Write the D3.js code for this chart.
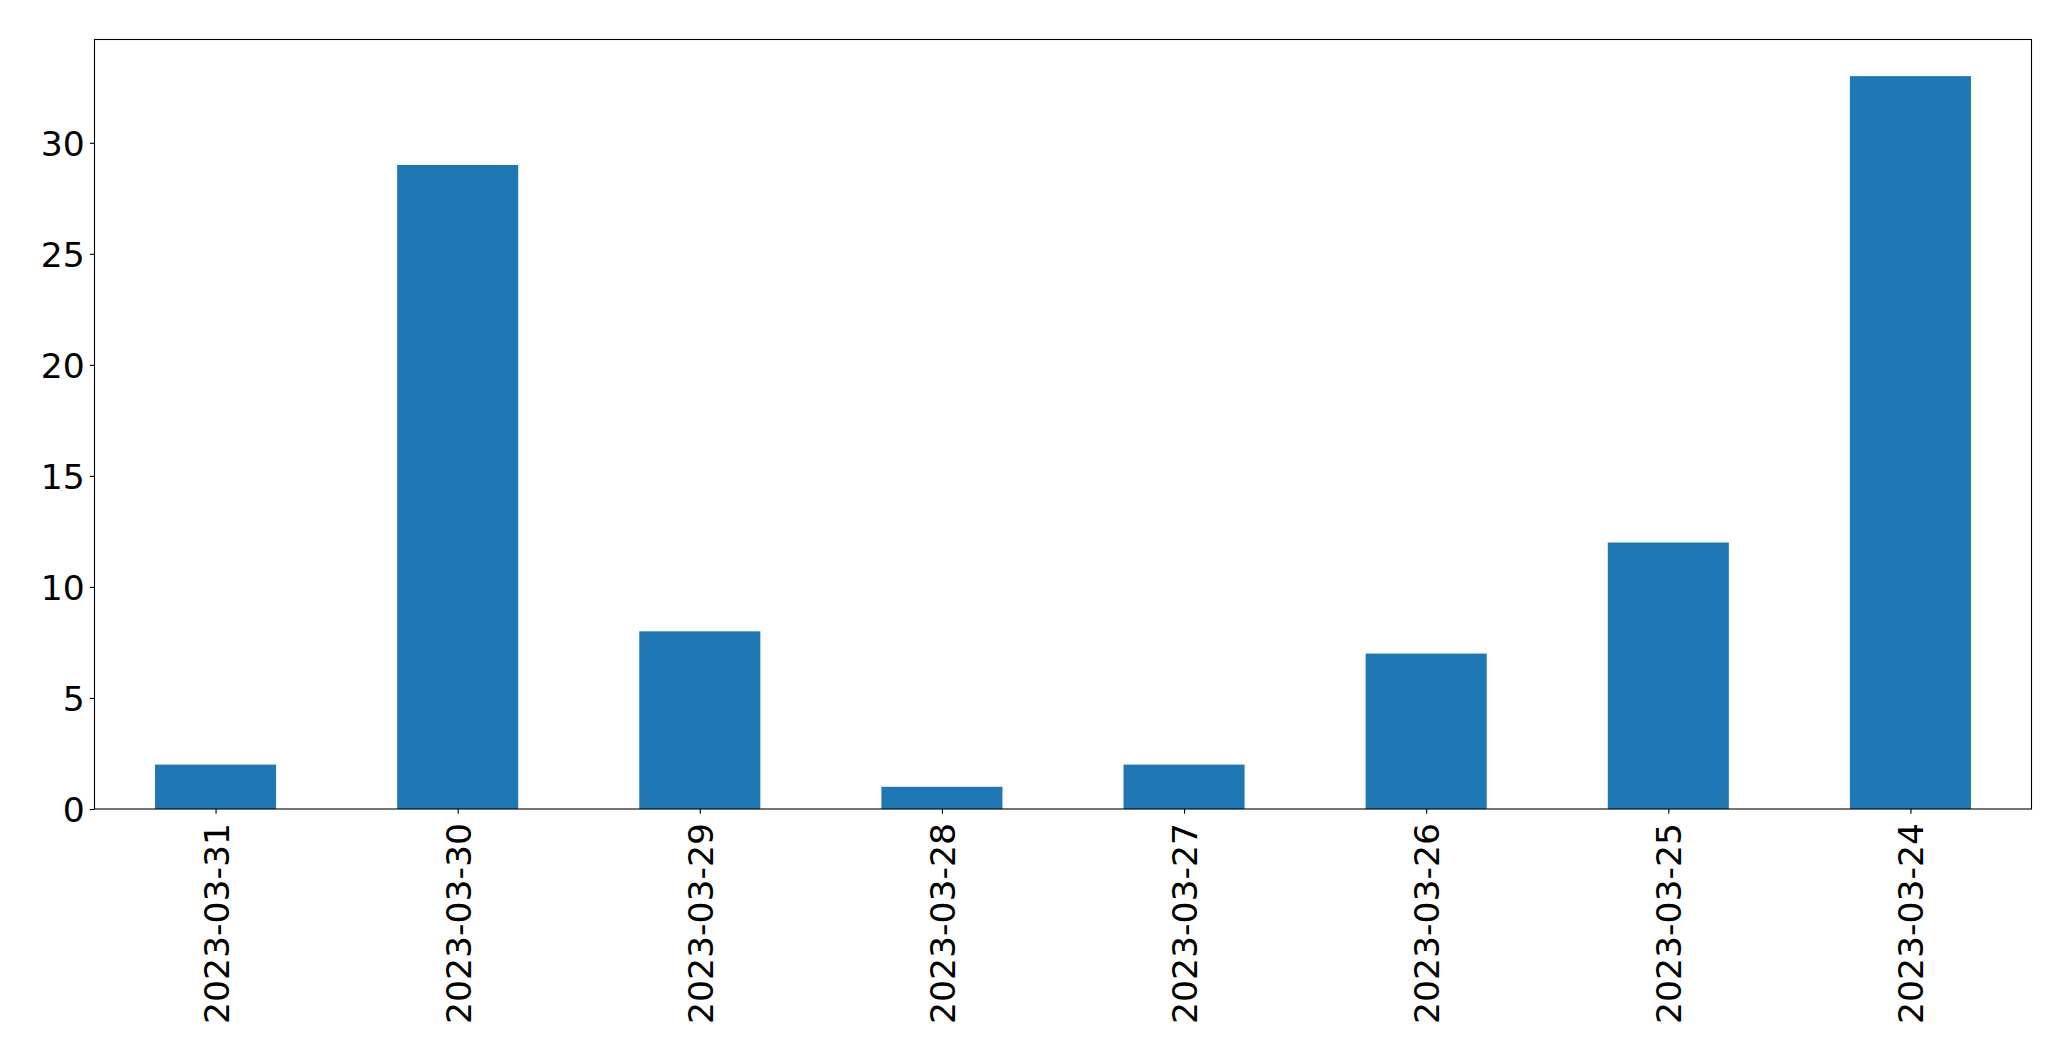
<!DOCTYPE html>
<html><head><meta charset="utf-8">
<script src="https://cdn.jsdelivr.net/npm/d3@7"></script>
<style>body{margin:0;background:#fff}svg{display:block}text{font-family:"DejaVu Sans",sans-serif;fill:#000}</style>
</head><body>
<script>
const categories = ["2023-03-31","2023-03-30","2023-03-29","2023-03-28","2023-03-27","2023-03-26","2023-03-25","2023-03-24"];
const values = [2, 29, 8, 1, 2, 7, 12, 33];
const yTicks = [0, 5, 10, 15, 20, 25, 30];

const W = 2071, H = 1061;
const L = 94.5, R = 2031.5, T = 39.5, B = 809;
const svg = d3.select("body").append("svg").attr("width", W).attr("height", H);

const x = d3.scaleLinear().domain([-0.5, categories.length - 0.5]).range([L, R]);
const y = d3.scaleLinear().domain([0, d3.max(values) * 1.05]).range([B, T]);

svg.append("g").selectAll("rect").data(values).join("rect")
  .attr("x", (d, i) => x(i - 0.25)).attr("width", (d, i) => x(i + 0.25) - x(i - 0.25))
  .attr("y", d => y(d)).attr("height", d => y(0) - y(d))
  .attr("fill", "#1f77b4");

const fs = "34.6px";
const yAxis = d3.axisLeft(y).tickValues(yTicks).tickSize(4.7).tickPadding(5).tickFormat(d3.format("d"));
const gy = svg.append("g").attr("transform", `translate(${L},0)`).call(yAxis);
gy.select(".domain").remove();
gy.selectAll("line").attr("stroke", "#000").attr("stroke-width", 1.1);
gy.selectAll("text").style("font-size", fs).attr("dy", "0.36em");

const xAxis = d3.axisBottom(x).tickValues(d3.range(categories.length)).tickSize(4.7).tickFormat(i => categories[i]);
const gx = svg.append("g").attr("transform", `translate(0,${B})`).call(xAxis);
gx.select(".domain").remove();
gx.selectAll("line").attr("stroke", "#000").attr("stroke-width", 1.1);
gx.selectAll("text").style("font-size", fs)
  .attr("text-anchor", "end").attr("dy", "0.36em")
  .attr("transform", "translate(0,14) rotate(-90)").attr("x", 0).attr("y", 0);

svg.append("rect").attr("x", L).attr("y", T).attr("width", R - L).attr("height", B - T)
  .attr("fill", "none").attr("stroke", "#000").attr("stroke-width", 1.1);
</script>
</body></html>
